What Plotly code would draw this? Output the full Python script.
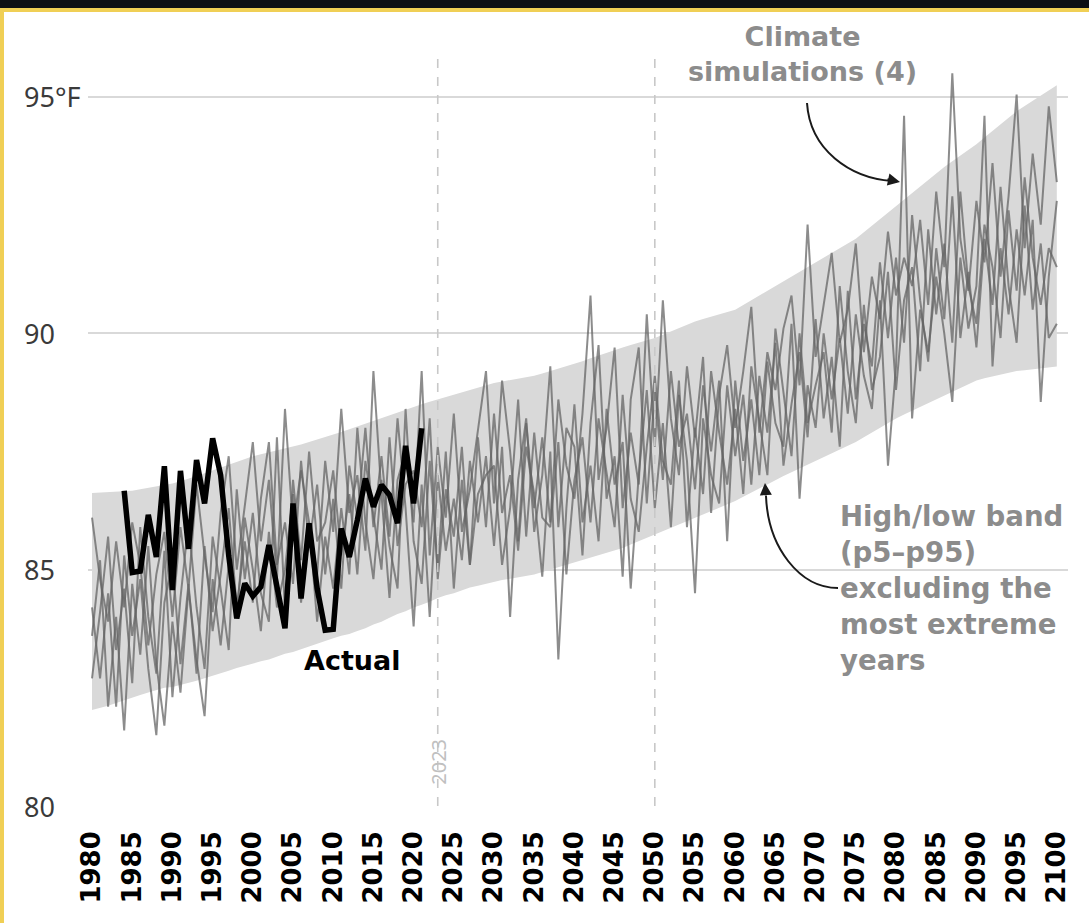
import plotly.graph_objects as go

# ---------------- data ----------------
years = list(range(1980, 2101))

band_low = [
    82.03, 82.07, 82.12, 82.18, 82.24, 82.30, 82.35, 82.40, 82.45, 82.50,
    82.52, 82.56, 82.60, 82.65, 82.70, 82.75, 82.80, 82.86, 82.92, 82.97,
    83.02, 83.06, 83.10, 83.16, 83.22, 83.26, 83.32, 83.38, 83.44, 83.50,
    83.55, 83.60, 83.64, 83.70, 83.76, 83.84, 83.90, 83.98, 84.06, 84.12,
    84.20, 84.26, 84.32, 84.40, 84.46, 84.50, 84.56, 84.62, 84.66, 84.70,
    84.75, 84.78, 84.81, 84.84, 84.87, 84.90, 84.95, 85.00, 85.05, 85.10,
    85.15, 85.20, 85.25, 85.30, 85.35, 85.40, 85.46, 85.53, 85.60, 85.68,
    85.75, 85.82, 85.89, 85.96, 86.03, 86.10, 86.17, 86.24, 86.31, 86.38,
    86.45, 86.54, 86.63, 86.72, 86.81, 86.90, 86.98, 87.06, 87.14, 87.22,
    87.30, 87.38, 87.46, 87.54, 87.62, 87.70, 87.80, 87.90, 88.00, 88.10,
    88.20, 88.28, 88.36, 88.44, 88.52, 88.60, 88.68, 88.76, 88.84, 88.92,
    89.00, 89.05, 89.09, 89.13, 89.16, 89.20, 89.22, 89.24, 89.26, 89.28,
    89.30,
]

band_high = [
    86.62, 86.63, 86.64, 86.65, 86.66, 86.67, 86.70, 86.73, 86.76, 86.79,
    86.82, 86.87, 86.92, 86.98, 87.04, 87.10, 87.16, 87.22, 87.28, 87.34,
    87.40, 87.44, 87.48, 87.52, 87.56, 87.60, 87.65, 87.70, 87.75, 87.80,
    87.85, 87.91, 87.97, 88.03, 88.09, 88.15, 88.21, 88.27, 88.33, 88.39,
    88.45, 88.50, 88.55, 88.60, 88.65, 88.70, 88.75, 88.80, 88.85, 88.90,
    88.95, 88.98, 89.01, 89.04, 89.07, 89.10, 89.15, 89.20, 89.25, 89.30,
    89.35, 89.41, 89.47, 89.53, 89.59, 89.65, 89.70, 89.75, 89.80, 89.85,
    89.90, 89.97, 90.04, 90.11, 90.18, 90.25, 90.30, 90.35, 90.40, 90.45,
    90.50, 90.60, 90.70, 90.80, 90.90, 91.00, 91.10, 91.20, 91.30, 91.40,
    91.50, 91.60, 91.70, 91.80, 91.90, 92.00, 92.14, 92.28, 92.42, 92.56,
    92.70, 92.84, 92.98, 93.12, 93.26, 93.40, 93.52, 93.64, 93.76, 93.88,
    94.00, 94.14, 94.28, 94.42, 94.56, 94.70, 94.81, 94.92, 95.03, 95.14,
    95.25,
]

sim_a = [
    86.1, 84.8, 83.9, 85.6, 84.2, 86.0, 85.1, 83.4, 84.9, 85.8,
    84.0, 85.9, 84.6, 86.8, 85.3, 84.1, 86.2, 87.4, 85.0, 86.4,
    87.7, 85.6, 86.9, 84.8, 88.4, 85.9, 87.1, 86.0, 84.9, 87.3,
    85.8, 88.4, 86.2, 87.0, 85.4, 89.2, 86.6, 84.4, 86.9, 87.5,
    86.0, 89.2, 85.3, 87.6, 86.1, 88.3, 85.8, 86.7, 88.0, 89.2,
    86.4, 89.0, 87.5, 85.6, 88.1, 86.3, 87.8, 86.0, 88.6, 87.2,
    86.5, 88.3, 90.8, 86.9, 88.0, 89.7, 86.3, 87.9, 86.8, 90.4,
    87.6, 90.7, 88.2, 87.0, 89.3, 87.8, 89.5, 86.2, 88.7, 89.75,
    88.0, 89.2, 90.56, 87.9, 89.6, 88.8, 90.1, 90.8, 88.9, 92.3,
    89.5, 90.6, 91.7, 89.8, 90.5, 91.9, 89.6, 91.2, 90.3, 92.15,
    90.8, 91.6, 91.0, 92.4, 90.6, 93.0, 91.4, 95.5, 92.0, 90.9,
    92.8, 91.5, 93.6, 91.2, 92.9, 95.05, 91.8, 93.8, 92.3, 94.8,
    93.2,
]

sim_b = [
    84.2, 82.7, 84.5, 82.1, 85.3, 83.6, 84.8, 82.9, 81.5, 84.3,
    85.2, 83.0, 84.7, 82.8, 85.5, 83.7, 84.9, 86.3, 84.2, 85.6,
    84.3, 86.5, 87.7, 85.1, 86.0, 84.7, 87.3, 85.5, 86.8, 84.9,
    86.5, 84.6, 87.2, 86.1, 88.0, 85.9, 87.4, 85.7, 88.2, 86.3,
    83.8, 86.8, 84.0, 87.0, 85.4, 86.5, 85.2, 87.3, 86.0, 87.4,
    85.5, 87.6, 84.0, 86.9, 88.2, 85.8, 87.0, 89.3, 85.9, 88.0,
    87.6, 85.3, 88.1, 89.75, 86.5, 87.4, 84.85, 88.6, 89.7, 86.4,
    88.8, 86.9, 89.2, 87.6, 88.3, 86.7, 88.9, 87.5, 89.0, 85.6,
    89.0, 87.3, 88.6, 87.0, 89.4, 88.1, 87.6, 90.2, 86.5, 88.9,
    88.0, 90.0, 88.6, 89.9, 88.3, 90.4, 89.1, 88.4, 90.7, 87.2,
    89.3, 94.6, 88.2, 90.5, 89.6, 91.2, 90.0, 88.55, 91.6, 90.1,
    91.0, 94.6, 89.3, 91.8, 90.4, 92.2, 90.8, 92.4, 88.55, 91.2,
    92.8,
]

sim_c = [
    83.6, 85.2, 82.1, 84.0, 81.6, 84.7, 83.2, 85.5, 83.0, 81.7,
    83.9, 82.4, 84.6, 83.1, 81.9, 84.8, 83.4, 85.1, 84.0, 86.1,
    85.0, 83.7, 85.8, 84.2, 85.0, 86.6, 84.3, 86.0, 83.9, 85.7,
    84.6, 86.3, 84.9, 88.0, 86.0, 84.8, 86.9, 85.5, 84.6, 88.4,
    85.6, 84.7, 87.3, 85.0, 87.5, 84.6, 86.9, 85.1, 87.8, 85.9,
    88.3, 86.2, 87.0, 85.4, 87.6, 86.6, 84.85, 87.5, 83.1, 86.3,
    88.5, 86.0, 87.2, 85.6, 88.4, 86.8, 87.7, 84.6, 87.0, 88.8,
    86.3, 88.1, 85.9, 88.7, 87.3, 84.5, 88.2, 87.0, 86.4, 88.9,
    87.4, 88.7, 86.8, 89.1, 87.9, 89.8, 87.2, 88.5, 89.6, 87.8,
    90.3, 88.2, 89.5, 87.6, 90.9, 88.6, 90.2, 89.3, 91.5, 89.9,
    91.6, 89.8, 92.5, 90.7, 89.4, 91.8, 90.3, 92.9, 89.9, 91.3,
    89.7, 92.0, 90.6, 93.1, 91.0, 89.8, 92.7, 90.5, 91.9, 89.9,
    90.2,
]

sim_d = [
    82.7, 84.1, 85.7, 83.3, 84.6, 82.6, 85.9, 84.0, 82.8, 85.4,
    82.3, 84.4, 86.0, 84.2, 82.9, 85.7, 84.6, 83.3, 86.7, 84.8,
    86.2, 84.5, 83.9, 87.8, 84.1, 86.9, 85.2, 87.5, 85.6, 86.0,
    87.1, 85.3, 86.6, 84.9, 87.3, 86.2, 85.0, 87.8, 85.5, 86.8,
    87.1, 85.9, 88.2, 84.8, 86.7, 85.7, 87.6, 85.1, 86.6, 87.0,
    87.2, 85.1, 86.3, 88.6, 85.7, 87.9, 86.1, 85.9, 87.7, 84.9,
    86.9, 87.8, 86.0, 88.2, 87.1, 85.9, 88.7, 86.5, 85.8, 87.6,
    89.1, 87.3, 86.8, 89.0, 85.9, 88.0, 86.6, 89.2, 87.9, 86.8,
    88.4, 86.6, 89.3, 88.2, 87.0, 90.1, 88.7, 87.4, 90.0, 88.1,
    88.9, 89.6, 87.9, 91.0, 89.2, 88.1, 90.6, 88.8, 89.5, 91.3,
    88.8, 90.7, 91.4, 89.2, 92.2, 90.4, 91.9, 89.8, 93.0, 91.0,
    90.2, 92.3, 91.4, 89.9, 92.6, 90.9, 93.3, 91.6, 90.6, 91.8,
    91.4,
]

actual_years = list(range(1984, 2022))
actual = [
    86.67, 84.94, 84.97, 86.16, 85.27, 87.19, 84.57, 87.09, 85.44, 87.32,
    86.40, 87.78, 87.00, 85.30, 83.97, 84.71, 84.44, 84.64, 85.52, 84.60,
    83.76, 86.40, 84.39, 85.98, 84.60, 83.72, 83.74, 85.87, 85.27, 86.05,
    86.93, 86.33, 86.79, 86.58, 85.98, 87.62, 86.40, 87.99,
]

x_ticks = list(range(1980, 2101, 5))
y_ticks = [80, 85, 90, 95]
y_tick_labels = ["80", "85", "90", "95°F"]
marker_years = [2023, 2050]

# ---------------- layout geometry (pixels) ----------------
W, H = 1089, 923
L, R, T, B = 88, 21, 20, 117
PW, PH = W - L - R, H - T - B


def pxx(px):
    return (px - L) / PW


def pxy(py):
    return (H - B - py) / PH


fig = go.Figure()

# band
fig.add_trace(go.Scatter(x=years, y=band_low, mode="lines", line=dict(width=0),
                         hoverinfo="skip", showlegend=False))
fig.add_trace(go.Scatter(x=years, y=band_high, mode="lines", line=dict(width=0),
                         fill="tonexty", fillcolor="#d9d9d9",
                         hoverinfo="skip", showlegend=False))

for s in (sim_a, sim_b, sim_c, sim_d):
    fig.add_trace(go.Scatter(x=years, y=s, mode="lines",
                             line=dict(color="rgba(100,100,100,0.74)", width=2),
                             showlegend=False))

fig.add_trace(go.Scatter(x=actual_years, y=actual, mode="lines",
                         line=dict(color="#000000", width=5.5),
                         showlegend=False))

shapes = []
for yr in marker_years:
    shapes.append(dict(type="line", xref="x", yref="y", x0=yr, x1=yr, y0=80, y1=95.9,
                       line=dict(color="#c8c8c8", width=1.6, dash="dash"), layer="above"))

# frame decorations
shapes.append(dict(type="rect", xref="paper", yref="paper", x0=pxx(0), x1=pxx(W),
                   y0=pxy(8), y1=pxy(0), fillcolor="#0d0f14", line=dict(width=0)))
shapes.append(dict(type="rect", xref="paper", yref="paper", x0=pxx(0), x1=pxx(W),
                   y0=pxy(12), y1=pxy(8), fillcolor="#f0cf55", line=dict(width=0)))
shapes.append(dict(type="rect", xref="paper", yref="paper", x0=pxx(0), x1=pxx(4),
                   y0=pxy(H), y1=pxy(8), fillcolor="#f0cf55", line=dict(width=0)))


def path_px(pts):
    (x0, y0), (c1x, c1y), (c2x, c2y), (x1, y1) = pts
    return (f"M {pxx(x0)},{pxy(y0)} C {pxx(c1x)},{pxy(c1y)} "
            f"{pxx(c2x)},{pxy(c2y)} {pxx(x1)},{pxy(y1)}")


shapes.append(dict(type="path", xref="paper", yref="paper",
                   path=path_px([(807, 103), (810, 150), (850, 178), (892, 181)]),
                   line=dict(color="#1a1a1a", width=2)))
shapes.append(dict(type="path", xref="paper", yref="paper",
                   path=path_px([(838, 588), (800, 588), (768, 548), (766, 496)]),
                   line=dict(color="#1a1a1a", width=2)))

annotations = []
for v, lab in zip(y_ticks, y_tick_labels):
    annotations.append(dict(x=pxx(22), xref="paper", y=v, yref="y", text=lab,
                            showarrow=False, xanchor="left", yanchor="middle",
                            font=dict(family="Noto Sans", size=27, color="#3a3a3a")))

# arrowheads
annotations.append(dict(x=pxx(900), y=pxy(182), xref="paper", yref="paper", text="",
                        showarrow=True, arrowhead=2, arrowsize=1.1, arrowwidth=2.2,
                        arrowcolor="#1a1a1a", ax=-14, ay=-3, standoff=0))
annotations.append(dict(x=pxx(765), y=pxy(483), xref="paper", yref="paper", text="",
                        showarrow=True, arrowhead=2, arrowsize=1.1, arrowwidth=2.2,
                        arrowcolor="#1a1a1a", ax=1, ay=14, standoff=0))

grey_txt = "#8c8c8c"
txt_font = "DejaVu Sans"
annotations.append(dict(x=pxx(802), y=pxy(54), xref="paper", yref="paper",
                        text="Climate<br>simulations (4)", showarrow=False,
                        xanchor="center", yanchor="middle", align="center",
                        font=dict(family=txt_font, size=27, color=grey_txt, weight="bold")))
annotations.append(dict(x=pxx(352), y=pxy(660), xref="paper", yref="paper",
                        text="Actual", showarrow=False, xanchor="center", yanchor="middle",
                        font=dict(family=txt_font, size=27, color="#000000", weight="bold")))
annotations.append(dict(x=pxx(838), y=pxy(588), xref="paper", yref="paper",
                        text="High/low band<br>(p5–p95)<br>excluding the<br>most extreme<br>years",
                        showarrow=False, xanchor="left", yanchor="middle", align="left",
                        font=dict(family=txt_font, size=27.6, color=grey_txt, weight="bold")))
annotations.append(dict(x=2023, xref="x", y=pxy(762), yref="paper", text="2023",
                        showarrow=False, textangle=-90, xanchor="center", yanchor="middle",
                        font=dict(family="Noto Sans", size=20, color="#c0c0c0")))

fig.update_layout(
    width=W, height=H,
    margin=dict(l=L, r=R, t=T, b=B, pad=0),
    paper_bgcolor="#ffffff", plot_bgcolor="#ffffff",
    showlegend=False, hovermode=False,
    shapes=shapes, annotations=annotations,
    xaxis=dict(range=[1979.5, 2101.39], tickmode="array", tickvals=x_ticks,
               ticktext=[str(t) for t in x_ticks], tickangle=-90,
               tickfont=dict(family="DejaVu Sans", size=26, color="#000000", weight="bold"),
               showgrid=False, zeroline=False, showline=False, ticks="",
               ticklabelstandoff=19),
    yaxis=dict(range=[80, 80 + PH / 47.27], tickmode="array", tickvals=y_ticks,
               showticklabels=False, showgrid=True, gridcolor="#d9d9d9", gridwidth=2,
               zeroline=False, showline=False, ticks=""),
)

fig.write_html("out.html", config={"displayModeBar": False},
               post_script="document.body.style.margin='0';")
